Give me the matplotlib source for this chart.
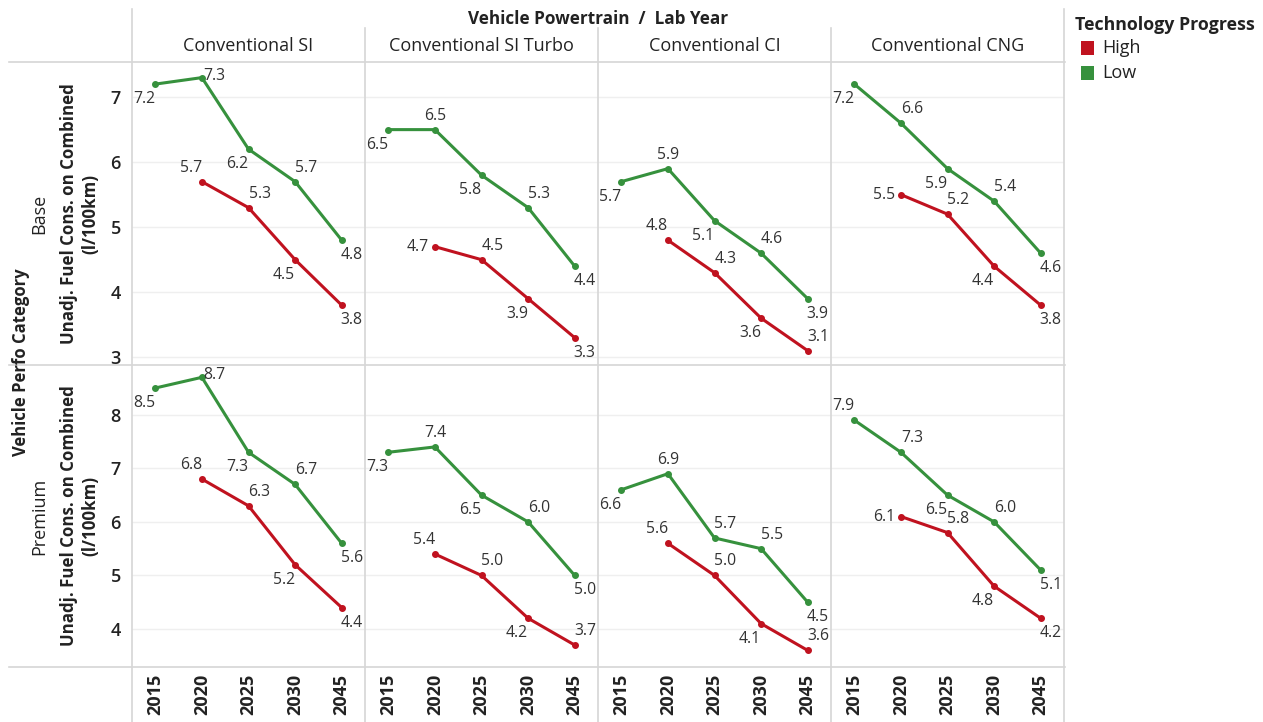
import numpy as np
import matplotlib
matplotlib.use("Agg")
import matplotlib.pyplot as plt
from matplotlib.lines import Line2D
from matplotlib.patches import Rectangle

plt.rcParams['font.family'] = ['Open Sans', 'DejaVu Sans']

# ---- data -------------------------------------------------------------
years = ['2015', '2020', '2025', '2030', '2045']
powertrains = ['Conventional SI', 'Conventional SI Turbo', 'Conventional CI', 'Conventional CNG']
categories = ['Base', 'Premium']
progress = ['High', 'Low']

nan = np.nan
low_base = [
    [7.2, 7.3, 6.2, 5.7, 4.8],
    [6.5, 6.5, 5.8, 5.3, 4.4],
    [5.7, 5.9, 5.1, 4.6, 3.9],
    [7.2, 6.6, 5.9, 5.4, 4.6],
]
high_base = [
    [nan, 5.7, 5.3, 4.5, 3.8],
    [nan, 4.7, 4.5, 3.9, 3.3],
    [nan, 4.8, 4.3, 3.6, 3.1],
    [nan, 5.5, 5.2, 4.4, 3.8],
]
low_premium = [
    [8.5, 8.7, 7.3, 6.7, 5.6],
    [7.3, 7.4, 6.5, 6.0, 5.0],
    [6.6, 6.9, 5.7, 5.5, 4.5],
    [7.9, 7.3, 6.5, 6.0, 5.1],
]
high_premium = [
    [nan, 6.8, 6.3, 5.2, 4.4],
    [nan, 5.4, 5.0, 4.2, 3.7],
    [nan, 5.6, 5.0, 4.1, 3.6],
    [nan, 6.1, 5.8, 4.8, 4.2],
]

# ---- styling ----------------------------------------------------------
RED = '#c0121f'
GREEN = '#36913d'
SEP = '#d6d6d6'
GRID = '#efefef'
LABEL_C = '#333333'
TEXT_C = '#222222'

# label placement per point (pixel offsets)
OFF = {'dl': (-11, -15), 'ur': (11, 14), 'dr': (10, -15), 'ul': (-11, 14),
       'u': (0, 14), 'l': (-17, 0), 'r': (12, 2)}
place_low = [
    [['dl', 'r', 'dl', 'ur', 'dr'], ['dl', 'u', 'dl', 'ur', 'dr'],
     ['dl', 'u', 'dl', 'ur', 'dr'], ['dl', 'ur', 'dl', 'ur', 'dr']],
    [['dl', 'r', 'dl', 'ur', 'dr'], ['dl', 'u', 'dl', 'ur', 'dr'],
     ['dl', 'u', 'ur', 'ur', 'dr'], ['ul', 'ur', 'dl', 'ur', 'dr']],
]
place_high = [
    [[None, 'ul', 'ur', 'dl', 'dr'], [None, 'l', 'ur', 'dl', 'dr'],
     [None, 'ul', 'ur', 'dl', 'ur'], [None, 'l', 'ur', 'dl', 'dr']],
    [[None, 'ul', 'ur', 'dl', 'dr'], [None, 'ul', 'ur', 'dl', 'ur'],
     [None, 'ul', 'ur', 'dl', 'ur'], [None, 'l', 'ur', 'dl', 'dr']],
]

W, H = 1263, 722
fig = plt.figure(figsize=(W / 100, H / 100), dpi=100)


def fx(x):
    return x / W


def fy(y):
    return 1 - y / H


col_left = [132, 365, 598, 831]
col_w = 233
row_top = [62, 365]
row_h = [303, 302]
ylims = [(2.88, 7.54), (3.29, 8.93)]
yticks = [[3, 4, 5, 6, 7], [4, 5, 6, 7, 8]]

data = {
    0: (low_base, high_base),
    1: (low_premium, high_premium),
}

x = np.arange(len(years))
for r in range(2):
    lows, highs = data[r]
    for c in range(4):
        ax = fig.add_axes([fx(col_left[c]), fy(row_top[r] + row_h[r]),
                           col_w / W, row_h[r] / H])
        ax.set_xlim(-0.5, len(years) - 0.5)
        ax.set_ylim(*ylims[r])
        for s in ax.spines.values():
            s.set_visible(False)
        ax.set_yticks(yticks[r])
        ax.yaxis.grid(True, color=GRID, lw=1.0)
        ax.set_axisbelow(True)
        ax.tick_params(length=0)
        ax.set_xticks(x)
        if c == 0:
            ax.set_yticklabels([str(t) for t in yticks[r]], fontsize=13,
                               fontweight='semibold', color=TEXT_C)
            ax.tick_params(axis='y', pad=8)
        else:
            ax.set_yticklabels([])
        if r == 1:
            ax.set_xticklabels(years, rotation=90, fontsize=13,
                               fontweight='bold', color=TEXT_C)
            ax.tick_params(axis='x', pad=5)
        else:
            ax.set_xticklabels([])

        for vals, col, places in ((lows[c], GREEN, place_low[r][c]),
                                  (highs[c], RED, place_high[r][c])):
            v = np.array(vals, dtype=float)
            ax.plot(x, v, color=col, lw=2.2, marker='o', ms=4.0,
                    solid_joinstyle='round', zorder=3)
            for xi, vi, p in zip(x, v, places):
                if np.isnan(vi) or p is None:
                    continue
                dx, dy = OFF[p]
                ax.annotate(f'{vi:.1f}', (xi, vi), xytext=(dx, dy),
                            textcoords='offset pixels', ha='center',
                            va='center', fontsize=11.3, color=LABEL_C,
                            zorder=4)

# ---- separators -------------------------------------------------------
def hline(y, x0, x1):
    fig.add_artist(Line2D([fx(x0), fx(x1)], [fy(y), fy(y)], color=SEP, lw=1.2))


def vline(x0, y0, y1):
    fig.add_artist(Line2D([fx(x0), fx(x0)], [fy(y0), fy(y1)], color=SEP, lw=1.2))


for yy in (62, 365, 667):
    hline(yy, 9, 1065)
vline(132, 9, 722)
vline(1064, 9, 722)
for xx in (365, 598, 831):
    vline(xx, 28, 722)

# ---- headers ----------------------------------------------------------
fig.text(fx(598), fy(19), 'Vehicle Powertrain  /  Lab Year', ha='center',
         va='center', fontsize=12.3, fontweight='bold', color=TEXT_C)
for c, name in enumerate(powertrains):
    fig.text(fx(col_left[c] + col_w / 2), fy(46), name, ha='center',
             va='center', fontsize=13, color=TEXT_C)

fig.text(fx(21), fy(362), 'Vehicle Perfo Category', rotation=90, ha='center',
         va='center', fontsize=12, fontweight='bold', color=TEXT_C)
for r, cat in enumerate(categories):
    cy = row_top[r] + row_h[r] / 2
    fig.text(fx(39), fy(cy), cat, rotation=90, ha='center', va='center',
             fontsize=13, color=TEXT_C)
    fig.text(fx(80), fy(cy), 'Unadj. Fuel Cons. on Combined\n(l/100km)',
             rotation=90, ha='center', va='center', fontsize=12.2,
             fontweight='bold', color=TEXT_C, linespacing=1.25)

# ---- legend -----------------------------------------------------------
fig.text(fx(1075), fy(25), 'Technology Progress', ha='left', va='center',
         fontsize=12.8, fontweight='bold', color=TEXT_C)
for i, (lab, col) in enumerate(zip(progress, [RED, GREEN])):
    yc = 48 + i * 25
    fig.add_artist(Rectangle((fx(1081), fy(yc + 6.5)), 13 / W, 13 / H,
                             facecolor=col, edgecolor='none',
                             transform=fig.transFigure))
    fig.text(fx(1102), fy(yc), lab, ha='left', va='center', fontsize=13,
             color=TEXT_C)

fig.savefig('out.png', dpi=100)
